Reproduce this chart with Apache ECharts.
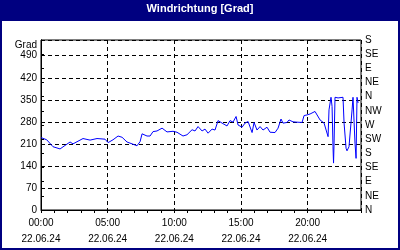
<!DOCTYPE html>
<html>
<head>
<meta charset="utf-8">
<script src="https://cdn.jsdelivr.net/npm/echarts@6/dist/echarts.min.js"></script>
<style>
html,body{margin:0;padding:0;background:#fff;}
#c{width:400px;height:250px;}
</style>
</head>
<body>
<div id="c"></div>
<script>
// time in hours (22.06.24), wind direction in degrees
var hours = [0,0.43,0.9,1.43,1.8,2.18,2.4,3.15,3.68,4.2,4.8,5.03,5.4,5.78,6.08,6.45,6.9,7.2,7.43,7.58,7.95,8.18,8.4,8.7,9.08,9.45,9.9,10.2,10.65,10.95,11.33,11.55,11.78,12.08,12.3,12.53,12.83,13.05,13.28,13.58,13.95,14.18,14.4,14.63,14.78,15.08,15.3,15.53,15.83,15.98,16.2,16.43,16.65,16.95,17.18,17.55,17.78,18.0,18.15,18.45,18.6,18.9,19.2,19.28,19.58,19.73,19.95,20.18,20.55,20.7,20.93,21.23,21.53,21.6,21.75,21.83,21.9,21.94,21.98,22.05,22.28,22.65,22.73,22.88,22.95,23.1,23.33,23.4,23.48,23.55,23.63,23.7,23.78];
var degrees = [230,223,201,194,205,216,210,227,222,227,225,214,223,235,231,216,209,204,217,242,235,235,249,251,260,248,250,247,235,239,255,251,265,251,257,244,257,254,284,276,267,284,279,297,270,263,276,281,246,278,254,265,254,263,247,246,260,289,276,278,286,280,279,273,278,300,302,305,313,311,286,276,233,318,358,329,201,149,213,358,356,358,276,196,188,201,318,358,358,212,164,358,340];
var leftTicks = [0,70,140,210,280,350,420,490];
var compass = ['N','NE','E','SE','S','SW','W','NW','N','NE','E','SE','S'];
var hourTicks = [0,5,10,15,20];
var dateLabel = '22.06.24';
var titleText = 'Windrichtung [Grad]';

var seriesData = hours.map(function(h,i){return [h, degrees[i]];});
function pad(n){return (n<10?'0':'')+n;}
var font = 'Liberation Sans';

var chart = echarts.init(document.getElementById('c'), null, {renderer:'canvas'});
chart.setOption({
  animation:false,
  backgroundColor:'#ffffff',
  graphic:[
    {type:'rect', z:-10, shape:{x:0,y:0,width:400,height:250}, style:{fill:'#ffffff', stroke:'#000080', lineWidth:4}},
    {type:'rect', z:-9, shape:{x:0,y:0,width:400,height:21}, style:{fill:'#000080'}}
  ],
  title:{text:titleText, left:'center', top:3, padding:0,
    textStyle:{color:'#ffffff', fontFamily:font, fontWeight:'bold', fontSize:11}},
  grid:{left:41, right:39, top:40, bottom:40, show:true, borderColor:'#000', borderWidth:1, backgroundColor:'transparent'},
  xAxis:[{
    type:'value', min:0, max:24, interval:5,
    axisLine:{show:true, lineStyle:{color:'#000', width:1}},
    axisTick:{show:true, length:3, lineStyle:{color:'#000'}},
    splitLine:{show:true, lineStyle:{color:'#000', type:[4,3], width:1}},
    axisLabel:{show:true, showMaxLabel:false, margin:5, color:'#000', fontFamily:font, fontSize:10, lineHeight:16,
      formatter:function(v){ return hourTicks.indexOf(v)>=0 ? pad(v)+':00\n'+dateLabel : ''; }}
  },{
    type:'value', min:0, max:24, interval:1, position:'bottom',
    axisLine:{show:false}, axisLabel:{show:false}, splitLine:{show:false},
    axisTick:{show:true, length:3, lineStyle:{color:'#000'}}
  }],
  yAxis:[{
    type:'value', min:0, max:540, interval:70, position:'left',
    name:'Grad', nameLocation:'end', nameGap:-5,
    nameTextStyle:{color:'#000', fontFamily:font, fontSize:10, align:'right', verticalAlign:'middle', padding:[0,4,0,0]},
    axisLine:{show:true, lineStyle:{color:'#000'}},
    axisTick:{show:false},
    splitLine:{show:true, lineStyle:{color:'#000', type:[4,3], width:1}},
    axisLabel:{showMaxLabel:false, margin:4, color:'#000', fontFamily:font, fontSize:10,
      formatter:function(v){ return leftTicks.indexOf(v)>=0 ? String(v) : ''; }}
  },{
    type:'value', min:0, max:540, interval:45, position:'right',
    axisLine:{show:true, lineStyle:{color:'#000'}},
    axisTick:{show:true, length:3, lineStyle:{color:'#000'}},
    splitLine:{show:false},
    axisLabel:{margin:4, color:'#000', fontFamily:font, fontSize:10,
      formatter:function(v){ return compass[Math.round(v/45)] || ''; }}
  }],
  series:[{
    type:'line', xAxisIndex:0, yAxisIndex:0, data:seriesData,
    showSymbol:false, symbol:'none',
    lineStyle:{color:'#0000ff', width:1}
  }]
});
</script>
</body>
</html>
